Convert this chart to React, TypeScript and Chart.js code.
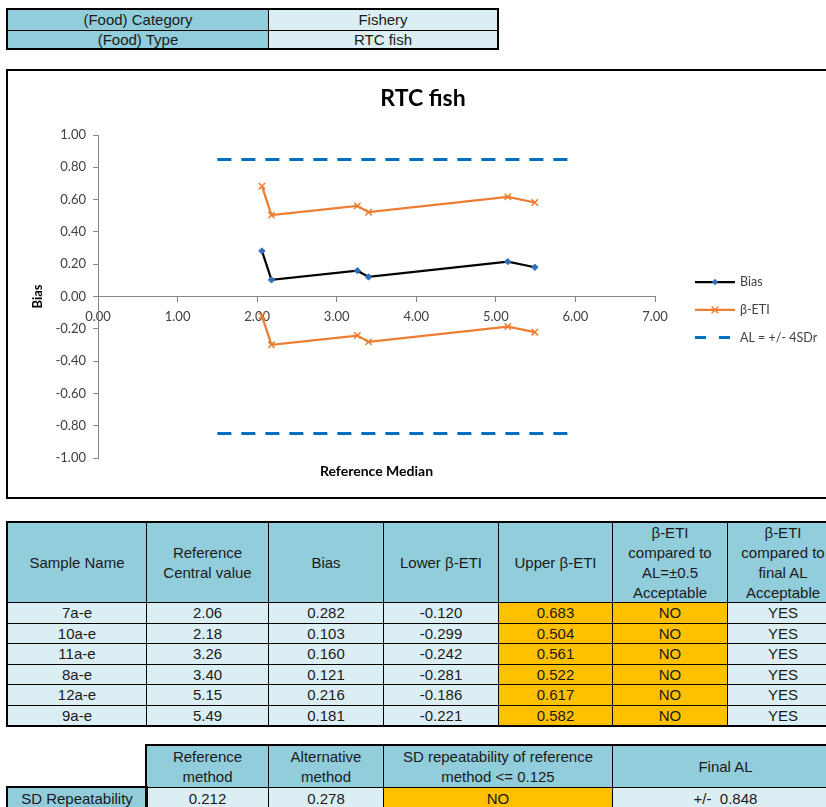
import React, { useEffect, useRef } from "react";
import { Chart, registerables } from "chart.js";

Chart.register(...registerables);

// ---------- data ----------
const foodCategory = "Fishery";
const foodType = "RTC fish";
const sampleNames = ["7a-e", "10a-e", "11a-e", "8a-e", "12a-e", "9a-e"];
const referenceValues = [2.06, 2.18, 3.26, 3.4, 5.15, 5.49];
const biasValues = [0.282, 0.103, 0.16, 0.121, 0.216, 0.181];
const lowerEti = [-0.12, -0.299, -0.242, -0.281, -0.186, -0.221];
const upperEti = [0.683, 0.504, 0.561, 0.522, 0.617, 0.582];
const etiVsHalf = ["NO", "NO", "NO", "NO", "NO", "NO"];
const etiVsFinal = ["YES", "YES", "YES", "YES", "YES", "YES"];
const alXRange = [1.5, 6.0];
const acceptanceLimit = 0.848;
const sdRepRef = 0.212;
const sdRepAlt = 0.278;
const sdRepOk = "NO";
const xTickValues = [0, 1, 2, 3, 4, 5, 6, 7];
const yTickValues = [-1, -0.8, -0.6, -0.4, -0.2, 0, 0.2, 0.4, 0.6, 0.8, 1];

// ---------- colours ----------
const TEAL = "#92CDDC";
const LIGHT = "#DAEEF3";
const GOLD = "#FFC000";
const ORANGE = "#ED7D31";
const BLUE = "#0070C0";
const TABLE_FONT = "'Liberation Sans', Arial, sans-serif";
const CHART_FONT = "Lato, 'Liberation Sans', sans-serif";

type CellProps = {
  x0: number; x1: number; y0: number; y1: number;
  bg?: string; text: string;
};
function Cell({ x0, x1, y0, y1, bg, text }: CellProps) {
  return (
    <div
      style={{
        position: "absolute",
        left: x0,
        top: y0,
        width: x1 - x0 + 1,
        height: y1 - y0 + 1,
        boxSizing: "border-box",
        border: "1px solid #000",
        background: bg || "transparent",
        display: "flex",
        alignItems: "center",
        justifyContent: "center",
        textAlign: "center",
        fontFamily: TABLE_FONT,
        fontSize: 15,
        lineHeight: "20px",
        color: "#1a1a1a",
        whiteSpace: "pre",
        overflow: "hidden",
      }}
    >
      {text}
    </div>
  );
}
function Frame({ x0, x1, y0, y1 }: { x0: number; x1: number; y0: number; y1: number }) {
  return (
    <div
      style={{
        position: "absolute",
        left: x0 - 1,
        top: y0 - 1,
        width: x1 - x0 + 3,
        height: y1 - y0 + 3,
        boxSizing: "border-box",
        border: "2px solid #000",
        pointerEvents: "none",
      }}
    />
  );
}

const legendPlugin = {
  id: "excelLegend",
  afterDraw(chart: any, _args: any, opts: any) {
    const ctx = chart.ctx;
    const ca = chart.chartArea;
    (opts.items || []).forEach((item: any, k: number) => {
      const ds = chart.data.datasets[item.index];
      const y = ca.top + opts.top + k * opts.spacing;
      const x0 = ca.right + opts.offset;
      const x1 = x0 + opts.lineLength;
      ctx.save();
      ctx.strokeStyle = ds.borderColor;
      ctx.lineWidth = ds.borderWidth;
      ctx.setLineDash(item.dash || []);
      ctx.beginPath();
      ctx.moveTo(x0, y);
      ctx.lineTo(x1, y);
      ctx.stroke();
      ctx.setLineDash([]);
      const cx = (x0 + x1) / 2;
      const r = ds.pointRadius || 0;
      if (r > 0) {
        if (ds.pointStyle === "rectRot") {
          ctx.fillStyle = ds.pointBackgroundColor;
          ctx.beginPath();
          ctx.moveTo(cx, y - r);
          ctx.lineTo(cx + r, y);
          ctx.lineTo(cx, y + r);
          ctx.lineTo(cx - r, y);
          ctx.closePath();
          ctx.fill();
        } else if (ds.pointStyle === "crossRot") {
          ctx.strokeStyle = ds.pointBorderColor;
          ctx.lineWidth = ds.pointBorderWidth || 1;
          const d = r * 0.75;
          ctx.beginPath();
          ctx.moveTo(cx - d, y - d);
          ctx.lineTo(cx + d, y + d);
          ctx.moveTo(cx + d, y - d);
          ctx.lineTo(cx - d, y + d);
          ctx.stroke();
        }
      }
      ctx.fillStyle = "#404040";
      ctx.font = `12.5px ${CHART_FONT}`;
      ctx.textBaseline = "middle";
      ctx.textAlign = "left";
      ctx.fillText(ds.label, x1 + 5, y);
      ctx.restore();
    });
  },
};

function RtcChart() {
  const ref = useRef<HTMLCanvasElement | null>(null);
  useEffect(() => {
    if (!ref.current) return;
    const pts = (ys: number[]) => referenceValues.map((x, i) => ({ x, y: ys[i] }));
    const alLine = (v: number) => alXRange.map((x) => ({ x, y: v }));
    const chart = new Chart(ref.current, {
      type: "line",
      data: {
        datasets: [
          {
            label: "Bias",
            data: pts(biasValues),
            borderColor: "#000000",
            borderWidth: 2.25,
            pointStyle: "rectRot",
            pointRadius: 3.2,
            pointBackgroundColor: "#2F6EBA",
            pointBorderColor: "#2F6EBA",
            pointBorderWidth: 1,
            tension: 0,
          },
          {
            label: "β-ETI",
            data: pts(upperEti),
            borderColor: ORANGE,
            borderWidth: 2.25,
            pointStyle: "crossRot",
            pointRadius: 4.5,
            pointBorderColor: ORANGE,
            pointBorderWidth: 1.5,
            tension: 0,
          },
          {
            label: "β-ETI lower",
            data: pts(lowerEti),
            borderColor: ORANGE,
            borderWidth: 2.25,
            pointStyle: "crossRot",
            pointRadius: 4.5,
            pointBorderColor: ORANGE,
            pointBorderWidth: 1.5,
            tension: 0,
          },
          {
            label: "AL = +/- 4SDr",
            data: alLine(acceptanceLimit),
            borderColor: BLUE,
            borderWidth: 3,
            borderDash: [14, 10],
            pointRadius: 0,
          },
          {
            label: "AL lower",
            data: alLine(-acceptanceLimit),
            borderColor: BLUE,
            borderWidth: 3,
            borderDash: [14, 10],
            pointRadius: 0,
          },
        ],
      },
      options: {
        animation: false,
        responsive: false,
        maintainAspectRatio: false,
        layout: { padding: 0 },
        plugins: {
          legend: { display: false },
          tooltip: { enabled: false },
          title: {
            display: true,
            text: "RTC fish",
            color: "#000",
            font: { family: CHART_FONT, size: 23, weight: "bold" },
            padding: { top: 14.2, bottom: 22.2 },
          },
          excelLegend: {
            items: [{ index: 0 }, { index: 1 }, { index: 3, dash: [11, 13] }],
            top: 147,
            spacing: 27.8,
            offset: 40,
            lineLength: 40,
          },
        } as any,
        scales: {
          x: {
            type: "linear",
            position: { y: 0 } as any,
            min: 0,
            max: 7,
            afterBuildTicks: (s: any) => {
              s.ticks = xTickValues.map((v) => ({ value: v }));
            },
            afterFit: (s: any) => {
              s.height = 0;
            },
            ticks: {
              color: "#404040",
              font: { family: CHART_FONT, size: 13 },
              padding: 8,
              callback: (v: any) => Number(v).toFixed(2),
            },
            grid: {
              display: true,
              drawOnChartArea: false,
              drawTicks: true,
              tickLength: 5,
              color: "#868686",
            },
            border: { display: true, color: "#868686", width: 1 },
          },
          xTitle: {
            type: "linear",
            axis: "x",
            position: "bottom",
            display: true,
            afterFit: (s: any) => {
              s.height = 39;
            },
            ticks: { display: false },
            grid: { display: false },
            border: { display: false },
            title: {
              display: true,
              text: "Reference Median",
              color: "#000",
              font: { family: CHART_FONT, size: 14, weight: "bold" },
              padding: { top: 4.6, bottom: 17.6 },
            },
          } as any,
          y: {
            type: "linear",
            position: "left",
            min: -1,
            max: 1,
            afterBuildTicks: (s: any) => {
              s.ticks = yTickValues.map((v) => ({ value: v }));
            },
            afterFit: (s: any) => {
              s.width = 90;
            },
            ticks: {
              color: "#404040",
              font: { family: CHART_FONT, size: 13 },
              padding: 7,
              callback: (v: any) => Number(v).toFixed(2),
            },
            grid: {
              display: true,
              drawOnChartArea: false,
              drawTicks: true,
              tickLength: 5,
              color: "#868686",
            },
            border: { display: true, color: "#868686", width: 1 },
            title: {
              display: true,
              text: "Bias",
              color: "#000",
              font: { family: CHART_FONT, size: 13, weight: "bold" },
              padding: { top: 21.7, bottom: 0 },
            },
          },
          yPad: {
            type: "linear",
            axis: "y",
            position: "right",
            display: true,
            afterFit: (s: any) => {
              s.width = 183;
            },
            ticks: { display: false },
            grid: { display: false },
            border: { display: false },
          } as any,
        },
      },
      plugins: [legendPlugin as any],
    });
    return () => chart.destroy();
  }, []);
  return <canvas ref={ref} width={830} height={426} style={{ display: "block", width: 830, height: 426 }} />;
}

export default function App() {
  const colX = [7, 146, 268, 383, 498, 612, 727, 838];
  const rowY = [602, 623, 643, 664, 684, 705, 725];
  const headers = [
    "Sample Name",
    "Reference\nCentral value",
    "Bias",
    "Lower β-ETI",
    "Upper β-ETI",
    "β-ETI\ncompared to\nAL=±0.5\nAcceptable",
    "β-ETI\ncompared to\nfinal AL\nAcceptable",
  ];
  const cells: React.ReactNode[] = [];
  headers.forEach((h, c) => {
    cells.push(<Cell key={"h" + c} x0={colX[c]} x1={colX[c + 1]} y0={522} y1={602} bg={TEAL} text={h} />);
  });
  sampleNames.forEach((name, r) => {
    const vals = [
      name,
      referenceValues[r].toFixed(2),
      biasValues[r].toFixed(3),
      lowerEti[r].toFixed(3),
      upperEti[r].toFixed(3),
      etiVsHalf[r],
      etiVsFinal[r],
    ];
    vals.forEach((v, c) => {
      const bg = c === 4 || c === 5 ? GOLD : LIGHT;
      cells.push(
        <Cell key={`r${r}c${c}`} x0={colX[c]} x1={colX[c + 1]} y0={rowY[r]} y1={rowY[r + 1]} bg={bg} text={v} />
      );
    });
  });

  return (
    <div
      style={{
        position: "fixed",
        left: 0,
        top: 0,
        width: 826,
        height: 807,
        overflow: "hidden",
        background: "#fff",
      }}
    >
      {/* top info table */}
      <Cell x0={7} x1={268} y0={9} y1={30} bg={TEAL} text="(Food) Category" />
      <Cell x0={268} x1={497} y0={9} y1={30} bg={LIGHT} text={foodCategory} />
      <Cell x0={7} x1={268} y0={30} y1={48} bg={TEAL} text="(Food) Type" />
      <Cell x0={268} x1={497} y0={30} y1={48} bg={LIGHT} text={foodType} />
      <Frame x0={7} x1={497} y0={9} y1={48} />

      {/* chart frame */}
      <div
        style={{
          position: "absolute",
          left: 6,
          top: 69,
          width: 834,
          height: 430,
          boxSizing: "border-box",
          border: "2px solid #000",
          background: "#fff",
        }}
      >
        <RtcChart />
      </div>

      {/* main table */}
      {cells}
      <Frame x0={7} x1={838} y0={522} y1={725} />

      {/* bottom table */}
      <Cell x0={146} x1={268} y0={745} y1={787} bg={TEAL} text={"Reference\nmethod"} />
      <Cell x0={268} x1={383} y0={745} y1={787} bg={TEAL} text={"Alternative\nmethod"} />
      <Cell x0={383} x1={612} y0={745} y1={787} bg={TEAL} text={"SD repeatability of reference\nmethod <= 0.125"} />
      <Cell x0={612} x1={838} y0={745} y1={787} bg={TEAL} text="Final AL" />
      <Cell x0={7} x1={146} y0={787} y1={810} bg={TEAL} text="SD Repeatability" />
      <Cell x0={146} x1={268} y0={787} y1={810} bg={LIGHT} text={sdRepRef.toFixed(3)} />
      <Cell x0={268} x1={383} y0={787} y1={810} bg={LIGHT} text={sdRepAlt.toFixed(3)} />
      <Cell x0={383} x1={612} y0={787} y1={810} bg={GOLD} text={sdRepOk} />
      <Cell x0={612} x1={838} y0={787} y1={810} bg={LIGHT} text={"+/-  " + acceptanceLimit.toFixed(3)} />
      <Frame x0={146} x1={838} y0={745} y1={810} />
      <Frame x0={7} x1={146} y0={787} y1={810} />
    </div>
  );
}
